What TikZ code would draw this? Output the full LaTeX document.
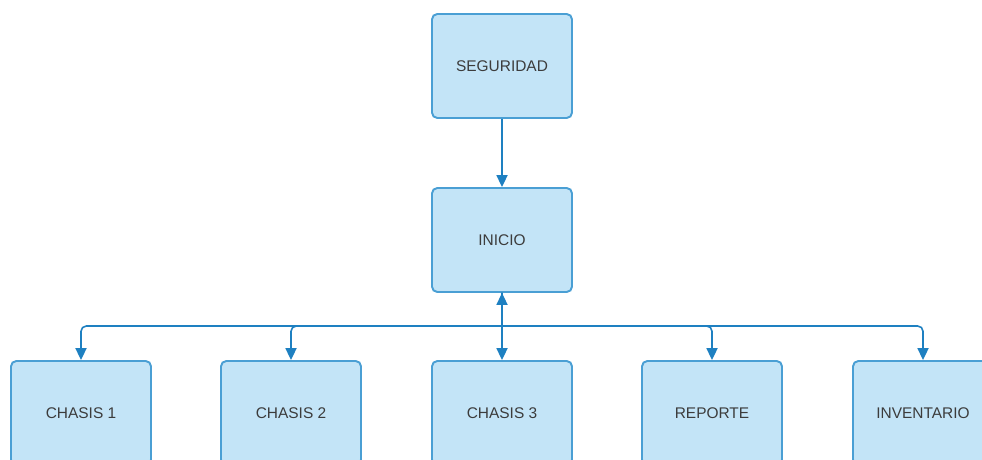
\documentclass[tikz,border=0pt]{standalone}
\usepackage{fontspec}
\setmainfont{Liberation Sans}
\usetikzlibrary{arrows.meta}
\definecolor{boxfill}{HTML}{C3E4F7}
\definecolor{boxline}{HTML}{4A9FD4}
\definecolor{linkblue}{HTML}{1E80C1}
\definecolor{textgray}{HTML}{3C3C3C}
\tikzset{punta/.tip={Triangle[length=6.8pt,width=6.3pt]}}

\begin{document}
\begin{tikzpicture}[x=0.02cm, y=-0.02cm,
        modulo/.style={draw=boxline, fill=boxfill, line width=1.1pt, rounded corners=3pt,
            minimum width=2.8cm, minimum height=2.08cm, text=textgray,
            font=\fontsize{8.8}{10}\selectfont},
        enlace/.style={draw=linkblue, line width=0.9pt, -punta}]

        \clip (0, 0) rectangle (982, 459);

        \node[modulo] (seguridad) at (502, 66) {SEGURIDAD};
        \node[modulo] (inicio) at (502, 240) {INICIO};

        \node[modulo] (chasis1) at (81, 413) {CHASIS 1};
        \node[modulo] (chasis2) at (291, 413) {CHASIS 2};
        \node[modulo] (chasis3) at (502, 413) {CHASIS 3};
        \node[modulo] (reporte) at (712, 413) {REPORTE};
        \node[modulo] (inventario) at (923, 413) {INVENTARIO};

        \coordinate (bus) at (502, 326);

        \draw[enlace] (seguridad) -- (inicio);

        \draw[enlace] (inicio.south) -- (bus) [rounded corners=3pt] -| (chasis1.north);
        \draw[enlace] (inicio.south) -- (bus) [rounded corners=3pt] -| (chasis2.north);
        \draw[enlace] (inicio.south) -- (bus) [rounded corners=3pt] -| (reporte.north);
        \draw[enlace] (inicio.south) -- (bus) [rounded corners=3pt] -| (inventario.north);
        \draw[enlace, punta-punta] (chasis3.north) -- (inicio.south);
    \end{tikzpicture}
\end{document}
